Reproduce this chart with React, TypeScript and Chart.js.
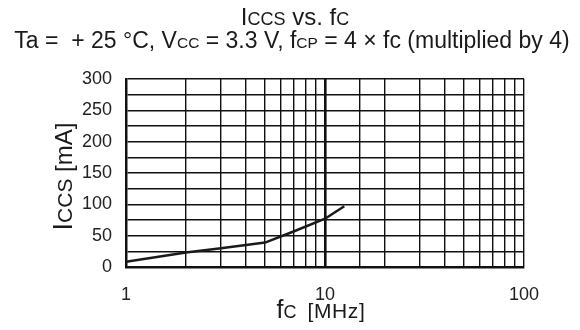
import React, { useEffect, useRef } from "react";
import { Chart, registerables } from "chart.js";

Chart.register(...registerables);

const freqMHz = [1, 2, 3, 5, 7, 10, 12.5];
const iccsMA = [8.5, 23, 30, 39, 57, 77, 97];
const xLabelTicks = [1, 10, 100];
const yLabelStep = 50;

type Seg = { t: string; s: number; ls?: number; gap?: number };

const FONT = "'Liberation Sans', Arial, sans-serif";

function setFont(ctx: CanvasRenderingContext2D, sg: Seg) {
  ctx.font = `${sg.s}px ${FONT}`;
  (ctx as any).letterSpacing = `${sg.ls || 0}px`;
}

function segWidth(ctx: CanvasRenderingContext2D, segs: Seg[]) {
  let w = 0;
  for (const sg of segs) {
    setFont(ctx, sg);
    w += (sg.gap || 0) + ctx.measureText(sg.t).width;
  }
  return w;
}

function drawRich(ctx: CanvasRenderingContext2D, segs: Seg[], cx: number, baseline: number) {
  const w = segWidth(ctx, segs);
  let x = cx - w / 2;
  ctx.textAlign = "left";
  ctx.textBaseline = "alphabetic";
  for (const sg of segs) {
    setFont(ctx, sg);
    x += sg.gap || 0;
    ctx.fillText(sg.t, x, baseline);
    x += ctx.measureText(sg.t).width;
  }
  (ctx as any).letterSpacing = "0px";
}

const title1: Seg[] = [
  { t: "I", s: 24 },
  { t: "CCS", s: 18 },
  { t: " vs. f", s: 24 },
  { t: "C", s: 18 },
];
const title2: Seg[] = [
  { t: "Ta =  + 25 °C, V", s: 23 },
  { t: "CC", s: 15.5 },
  { t: " = 3.3 V, f", s: 23 },
  { t: "CP", s: 15.5 },
  { t: " = 4 × fc (multiplied by 4)", s: 23 },
];
const yTitle: Seg[] = [
  { t: "I", s: 27 },
  { t: "CCS", s: 21 },
  { t: " [mA]", s: 24 },
];
const xTitle: Seg[] = [
  { t: "f", s: 25 },
  { t: "C", s: 18 },
  { t: "[MHz]", s: 21, ls: 0.6, gap: 11 },
];

const textPlugin = {
  id: "richText",
  afterDraw(chart: any) {
    const ctx = chart.ctx as CanvasRenderingContext2D;
    ctx.save();
    ctx.fillStyle = "#1a1a1a";
    drawRich(ctx, title1, 295, 25);
    drawRich(ctx, title2, 292, 48);
    drawRich(ctx, xTitle, 321, 318);
    ctx.translate(72, 176.5);
    ctx.rotate(-Math.PI / 2);
    drawRich(ctx, yTitle, 0, 0);
    ctx.restore();
  },
};

export default function App() {
  const ref = useRef<HTMLCanvasElement>(null);
  useEffect(() => {
    if (!ref.current) return;
    const chart = new Chart(ref.current, {
      type: "line",
      data: {
        datasets: [
          {
            data: freqMHz.map((f, i) => ({ x: f, y: iccsMA[i] })),
            borderColor: "#1a1a1a",
            borderWidth: 2.5,
            pointRadius: 0,
            fill: false,
            tension: 0,
          },
        ],
      },
      options: {
        animation: false,
        responsive: false,
        maintainAspectRatio: false,
        layout: { padding: { left: 0, top: 79, right: 56, bottom: 0 } },
        plugins: { legend: { display: false }, tooltip: { enabled: false }, title: { display: false } },
        scales: {
          x: {
            type: "logarithmic",
            min: 1,
            max: 100,
            afterFit: (axis: any) => {
              axis.height = 63;
            },
            border: { display: true, color: "#111", width: 2.5 },
            grid: {
              color: "#111",
              drawTicks: false,
              lineWidth: (c: any) => (c.tick && c.tick.value === 10 ? 2.6 : 1.4),
            },
            ticks: {
              autoSkip: false,
              maxRotation: 0,
              padding: 17,
              color: "#222",
              font: { family: FONT, size: 18 },
              callback: (v: any) => (xLabelTicks.includes(Number(v)) ? String(v) : ""),
            },
          },
          y: {
            min: 0,
            max: 300,
            afterFit: (axis: any) => {
              axis.width = 126;
            },
            border: { display: true, color: "#111", width: 2.5 },
            grid: { color: "#111", drawTicks: false, lineWidth: 1.4 },
            ticks: {
              stepSize: 25,
              autoSkip: false,
              padding: 14,
              color: "#222",
              font: { family: FONT, size: 18 },
              callback: (v: any) => (Number(v) % yLabelStep === 0 ? String(v) : ""),
            },
          },
        },
      },
      plugins: [textPlugin],
    } as any);
    return () => chart.destroy();
  }, []);
  return (
    <div style={{ position: "absolute", left: 0, top: 0, width: 580, height: 330, background: "#fff" }}>
      <canvas ref={ref} width={580} height={330} style={{ width: 580, height: 330 }} />
    </div>
  );
}
